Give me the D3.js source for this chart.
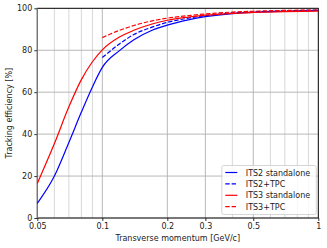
<!DOCTYPE html>
<html>
<head>
<meta charset="utf-8">
<script src="https://cdn.jsdelivr.net/npm/d3@7"></script>
<style>
  body { margin: 0; background: #fff; }
  text { font-family: "DejaVu Sans", sans-serif; }
</style>
</head>
<body>
<div id="wrapper"></div>
<script>
// pt points (GeV/c)
const ptAll = [0.05, 0.06, 0.07, 0.08, 0.09, 0.1, 0.12, 0.14, 0.17, 0.2, 0.25, 0.3, 0.4, 0.5, 0.7, 1.0];
const ptTpc = [0.1, 0.12, 0.14, 0.17, 0.2, 0.25, 0.3, 0.4, 0.5, 0.7, 1.0];

const its2Standalone = [7, 20, 36, 50.5, 62.5, 71.8, 79.8, 85, 89.5, 92, 94.5, 96, 97.5, 98.1, 98.6, 99];
const its2Tpc = [76.5, 83, 87.5, 91, 93.3, 95.3, 96.5, 97.8, 98.3, 98.8, 99.1];
const its3Standalone = [16.5, 35.5, 53, 66, 74.5, 80.2, 86.3, 89.5, 92.5, 94.3, 95.8, 96.7, 97.6, 98, 98.4, 98.7];
const its3Tpc = [86, 89.5, 91.8, 94, 95.3, 96.5, 97.3, 98.2, 98.6, 99, 99.2];

const xTickValues = [0.05, 0.1, 0.2, 0.3, 0.5, 1];
const xMinorValues = [0.06, 0.07, 0.08, 0.09, 0.4, 0.6, 0.7, 0.8, 0.9];
const yTickValues = [0, 20, 40, 60, 80, 100];

const seriesNames = ["ITS2 standalone", "ITS2+TPC", "ITS3 standalone", "ITS3+TPC"];

var dimension = {
    width: 327,
    height: 248,
    margin: { top: 8.3, left: 37.3, bottom: 30, right: 8.7 }
};
dimension.boundedWidth = dimension.width - dimension.margin.left - dimension.margin.right;
dimension.boundedHeight = dimension.height - dimension.margin.top - dimension.margin.bottom;

const svg = d3.select("#wrapper").append("svg")
    .attr("width", dimension.width)
    .attr("height", dimension.height);

const bounded = svg.append("g")
    .attr("transform", `translate(${dimension.margin.left}, ${dimension.margin.top})`);

const xScaler = d3.scaleLog()
    .domain([0.05, 1])
    .range([0, dimension.boundedWidth]);

const yScaler = d3.scaleLinear()
    .domain([0, 100])
    .range([dimension.boundedHeight, 0]);

// grid
bounded.append("g").selectAll("line")
    .data(xMinorValues).join("line")
    .attr("x1", d => xScaler(d)).attr("x2", d => xScaler(d))
    .attr("y1", 0).attr("y2", dimension.boundedHeight)
    .attr("stroke", "#d4d4d4").attr("stroke-width", 0.9);

bounded.append("g").selectAll("line")
    .data(xTickValues).join("line")
    .attr("x1", d => xScaler(d)).attr("x2", d => xScaler(d))
    .attr("y1", 0).attr("y2", dimension.boundedHeight)
    .attr("stroke", "#b0b0b0").attr("stroke-width", 0.9);

bounded.append("g").selectAll("line")
    .data(yTickValues).join("line")
    .attr("x1", 0).attr("x2", dimension.boundedWidth)
    .attr("y1", d => yScaler(d)).attr("y2", d => yScaler(d))
    .attr("stroke", "#b0b0b0").attr("stroke-width", 0.9);

// frame
bounded.append("rect")
    .attr("width", dimension.boundedWidth)
    .attr("height", dimension.boundedHeight)
    .attr("fill", "none")
    .attr("stroke", "#000")
    .attr("stroke-width", 0.9);

// axes
const x_axis = d3.axisBottom(xScaler)
    .tickValues(xTickValues)
    .tickFormat(d3.format("~g"))
    .tickSize(3).tickPadding(2);

const y_axis = d3.axisLeft(yScaler)
    .tickValues(yTickValues)
    .tickSize(3).tickPadding(2);

const gx = bounded.append("g")
    .attr("transform", `translate(0, ${dimension.boundedHeight})`)
    .call(x_axis);
const gy = bounded.append("g").call(y_axis);

[gx, gy].forEach(g => {
    g.select(".domain").remove();
    g.selectAll("line").attr("stroke", "#000").attr("stroke-width", 0.8);
    g.selectAll("text").attr("font-size", 8).attr("fill", "#222")
        .attr("font-family", "DejaVu Sans, sans-serif");
});

// grid line at 0.05 sits above the left spine
bounded.append("line")
    .attr("x1", xScaler(0.05)).attr("x2", xScaler(0.05))
    .attr("y1", 0).attr("y2", dimension.boundedHeight)
    .attr("stroke", "#8a8a8a").attr("stroke-width", 1);

// labels
svg.append("text")
    .attr("x", dimension.margin.left + dimension.boundedWidth / 2)
    .attr("y", 241)
    .attr("text-anchor", "middle")
    .attr("font-size", 8).attr("fill", "#222")
    .text("Transverse momentum [GeV/c]");

svg.append("text")
    .attr("transform", `translate(12, ${dimension.margin.top + dimension.boundedHeight / 2}) rotate(-90)`)
    .attr("text-anchor", "middle")
    .attr("font-size", 8).attr("fill", "#222")
    .text("Tracking efficiency [%]");

// curves
const lineGen = (xs) => d3.line()
    .x((d, i) => xScaler(xs[i]))
    .y(d => yScaler(d))
    .curve(d3.curveMonotoneX);

const series = [
    { xs: ptAll, ys: its2Standalone, color: "blue", dash: null },
    { xs: ptTpc, ys: its2Tpc, color: "blue", dash: "4.4,1.9" },
    { xs: ptAll, ys: its3Standalone, color: "red", dash: null },
    { xs: ptTpc, ys: its3Tpc, color: "red", dash: "4.4,1.9" }
];

series.forEach(s => {
    bounded.append("path")
        .attr("d", lineGen(s.xs)(s.ys))
        .attr("fill", "none")
        .attr("stroke", s.color)
        .attr("stroke-width", 1.2)
        .attr("stroke-dasharray", s.dash);
});

// legend
const legend = bounded.append("g")
    .attr("transform", `translate(${dimension.boundedWidth - 96.5}, ${dimension.boundedHeight - 52.5})`);

legend.append("rect")
    .attr("width", 94.5).attr("height", 49)
    .attr("rx", 2)
    .attr("fill", "#fff").attr("fill-opacity", 0.8)
    .attr("stroke", "#cccccc").attr("stroke-width", 0.8);

seriesNames.forEach((name, i) => {
    const y = 7 + i * 11.4;
    legend.append("line")
        .attr("x1", 3.5).attr("x2", 15.5)
        .attr("y1", y).attr("y2", y)
        .attr("stroke", series[i].color)
        .attr("stroke-width", 1.2)
        .attr("stroke-dasharray", series[i].dash);
    legend.append("text")
        .attr("x", 24).attr("y", y + 3)
        .attr("font-size", 8).attr("fill", "#222")
        .text(name);
});
</script>
</body>
</html>
